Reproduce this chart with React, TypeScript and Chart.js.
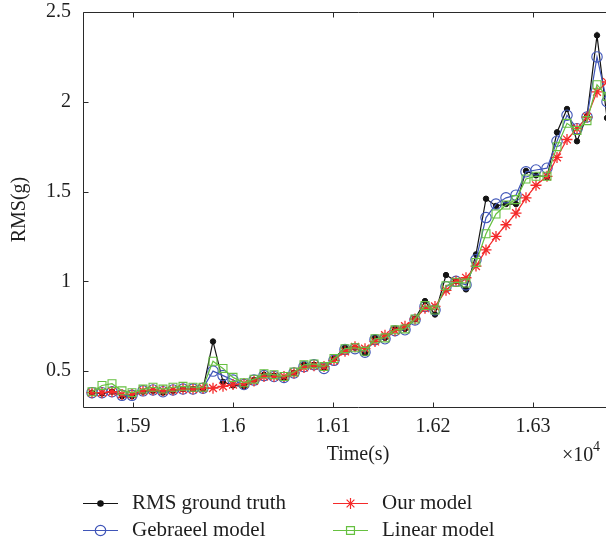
import React, { useEffect, useRef } from 'react';
import { Chart, registerables } from 'chart.js';
import { drawPoint } from 'chart.js/helpers';

Chart.register(...registerables);

// time stamps of the samples (s)
const TIMES = [
  15859, 15869, 15879, 15889, 15899, 15910, 15920, 15930, 15940, 15950,
  15960, 15970, 15980, 15990, 16000, 16011, 16021, 16031, 16041, 16051,
  16061, 16071, 16081, 16091, 16101, 16112, 16122, 16132, 16142, 16152,
  16162, 16172, 16182, 16192, 16202, 16213, 16223, 16233, 16243, 16253,
  16263, 16273, 16283, 16293, 16303, 16314, 16324, 16334, 16344, 16354,
  16364, 16374,
];

const RMS_TRUTH = [
  0.38, 0.375, 0.385, 0.36, 0.36, 0.385, 0.39, 0.38, 0.39, 0.4,
  0.4, 0.4, 0.665, 0.44, 0.42, 0.415, 0.45, 0.48, 0.475, 0.46,
  0.49, 0.535, 0.535, 0.52, 0.57, 0.63, 0.63, 0.6, 0.685, 0.685,
  0.735, 0.735, 0.79, 0.89, 0.815, 1.035, 1.0, 0.955, 1.15, 1.46,
  1.42, 1.43, 1.43, 1.615, 1.59, 1.58, 1.83, 1.96, 1.78, 1.92,
  2.37, 1.91,
];

const GEBRAEEL = [
  0.38, 0.38, 0.385, 0.365, 0.365, 0.39, 0.395, 0.385, 0.395, 0.4,
  0.4, 0.405, 0.5, 0.475, 0.45, 0.425, 0.45, 0.475, 0.47, 0.465,
  0.49, 0.525, 0.535, 0.515, 0.56, 0.62, 0.625, 0.605, 0.675, 0.68,
  0.725, 0.73, 0.785, 0.86, 0.84, 0.97, 1.0, 0.98, 1.12, 1.355,
  1.43, 1.465, 1.48, 1.61, 1.62, 1.63, 1.78, 1.925, 1.85, 1.915,
  2.25, 2.0,
];

const OUR_MODEL = [
  0.38, 0.38, 0.385, 0.37, 0.37, 0.39, 0.395, 0.39, 0.395, 0.4,
  0.4, 0.405, 0.405, 0.415, 0.425, 0.43, 0.445, 0.47, 0.47, 0.47,
  0.49, 0.52, 0.53, 0.525, 0.56, 0.61, 0.635, 0.625, 0.665, 0.7,
  0.725, 0.75, 0.79, 0.85, 0.86, 0.95, 1.0, 1.02, 1.085, 1.175,
  1.25, 1.315, 1.38, 1.465, 1.535, 1.585, 1.69, 1.79, 1.85, 1.915,
  2.055, 2.11,
];

const LINEAR = [
  0.385, 0.42, 0.43, 0.39, 0.38, 0.4, 0.41, 0.4, 0.41, 0.415,
  0.41, 0.41, 0.555, 0.515, 0.465, 0.435, 0.455, 0.485, 0.48, 0.47,
  0.495, 0.535, 0.54, 0.525, 0.57, 0.625, 0.63, 0.61, 0.68, 0.685,
  0.73, 0.735, 0.79, 0.865, 0.84, 0.975, 0.995, 0.99, 1.105, 1.265,
  1.375, 1.425, 1.455, 1.57, 1.585, 1.585, 1.75, 1.88, 1.84, 1.895,
  2.095, 2.03,
];

const X_TICKS = [15900, 16000, 16100, 16200, 16300];
const X_TICK_LABELS = ['1.59', '1.6', '1.61', '1.62', '1.63'];
const Y_TICKS = [0.5, 1, 1.5, 2, 2.5];
const Y_TICK_LABELS = ['0.5', '1', '1.5', '2', '2.5'];
const SERIES_LABELS = ['RMS ground truth', 'Gebraeel model', 'Our model', 'Linear model'];

const FONT = '"Liberation Serif", "Times New Roman", serif';
const TEXT_COLOR = '#1e1e1e';
const AXIS_COLOR = '#2a2a2a';

const STYLES = [
  { color: '#141414', pointStyle: 'circle', radius: 2.7, fill: '#141414', order: 3, pw: 1 },
  { color: '#3f55b8', pointStyle: 'circle', radius: 5.2, fill: 'rgba(0,0,0,0)', order: 2, pw: 1.1 },
  { color: '#f42a2a', pointStyle: 'star', radius: 5.5, fill: 'rgba(0,0,0,0)', order: 1, pw: 1.3 },
  { color: '#66c040', pointStyle: 'rect', radius: 5.6, fill: 'rgba(0,0,0,0)', order: 0, pw: 1.1 },
];

const SERIES = [RMS_TRUTH, GEBRAEEL, OUR_MODEL, LINEAR];

const framePlugin = {
  id: 'frameAndLegend',
  afterDraw(chart: any) {
    const { ctx, chartArea } = chart;
    const xs = chart.scales.x;
    const ys = chart.scales.y;
    const L = Math.round(chartArea.left) + 0.5;
    const R = Math.round(chartArea.right) + 0.5;
    const T = Math.round(chartArea.top) + 0.5;
    const B = Math.round(chartArea.bottom) + 0.5;
    ctx.save();
    ctx.strokeStyle = AXIS_COLOR;
    ctx.lineWidth = 1;
    ctx.beginPath();
    ctx.moveTo(L, T); ctx.lineTo(R, T); ctx.lineTo(R, B); ctx.lineTo(L, B); ctx.closePath();
    ctx.stroke();
    // inward ticks
    const tl = 5;
    ctx.beginPath();
    X_TICKS.forEach((v) => {
      const px = Math.round(xs.getPixelForValue(v)) + 0.5;
      ctx.moveTo(px, B); ctx.lineTo(px, B - tl);
      ctx.moveTo(px, T); ctx.lineTo(px, T + tl);
    });
    Y_TICKS.forEach((v) => {
      const py = Math.round(ys.getPixelForValue(v)) + 0.5;
      ctx.moveTo(L, py); ctx.lineTo(L + tl, py);
      ctx.moveTo(R, py); ctx.lineTo(R - tl, py);
    });
    ctx.stroke();

    // x10^4 exponent label
    ctx.fillStyle = TEXT_COLOR;
    ctx.textBaseline = 'middle';
    ctx.textAlign = 'left';
    ctx.font = `20px ${FONT}`;
    ctx.fillText('\u00d710', 562, 456);
    ctx.font = `14px ${FONT}`;
    ctx.fillText('4', 593, 447);

    // legend
    const cols = [chartArea.left, chartArea.left + 250];
    const rows = [503, 530];
    const order = [[0, 0], [1, 0], [0, 1], [1, 1]];
    SERIES_LABELS.forEach((label, i) => {
      const [r, c] = order[i];
      const x0 = cols[c];
      const y0 = rows[r];
      const st = STYLES[i];
      ctx.strokeStyle = st.color;
      ctx.lineWidth = 1.2;
      ctx.beginPath();
      ctx.moveTo(x0, y0 + 0.5);
      ctx.lineTo(x0 + 35, y0 + 0.5);
      ctx.stroke();
      ctx.fillStyle = st.fill;
      drawPoint(ctx, { pointStyle: st.pointStyle, radius: st.radius, borderWidth: st.pw, rotation: 0 }, x0 + 17.5, y0 + 0.5);
      ctx.fillStyle = TEXT_COLOR;
      ctx.font = `21px ${FONT}`;
      ctx.textBaseline = 'middle';
      ctx.textAlign = 'left';
      ctx.fillText(label, x0 + 49, y0);
    });
    ctx.restore();
  },
};

export default function App() {
  const canvasRef = useRef<HTMLCanvasElement | null>(null);

  useEffect(() => {
    const canvas = canvasRef.current;
    if (!canvas) return;
    const datasets = SERIES.map((vals, i) => {
      const st = STYLES[i];
      return {
        label: SERIES_LABELS[i],
        data: TIMES.map((t, k) => ({ x: t, y: vals[k] })),
        borderColor: st.color,
        backgroundColor: st.fill,
        borderWidth: 1.2,
        pointStyle: st.pointStyle,
        pointRadius: st.radius,
        pointBorderWidth: st.pw,
        pointBorderColor: st.color,
        pointBackgroundColor: st.fill,
        tension: 0,
        fill: false,
        order: st.order,
      };
    });
    const chart = new Chart(canvas, {
      type: 'line',
      data: { datasets },
      plugins: [framePlugin],
      options: {
        responsive: false,
        animation: false,
        devicePixelRatio: 1,
        layout: { padding: { left: 0, top: 12, right: 27, bottom: 79 } },
        plugins: { legend: { display: false }, tooltip: { enabled: false } },
        scales: {
          x: {
            type: 'linear',
            min: 15850,
            max: 16400,
            grid: { display: false, drawTicks: false, tickLength: 0 },
            border: { display: false },
            afterBuildTicks: (s: any) => { s.ticks = X_TICKS.map((v) => ({ value: v })); },
            afterFit: (s: any) => { s.height = 60; s.paddingLeft = 0; s.paddingRight = 0; },
            ticks: {
              autoSkip: false,
              maxRotation: 0,
              padding: 8,
              color: TEXT_COLOR,
              font: { family: FONT, size: 20 },
              callback: (_v: any, idx: number) => X_TICK_LABELS[idx],
            },
            title: {
              display: true,
              text: 'Time(s)',
              color: TEXT_COLOR,
              font: { family: FONT, size: 20 },
              padding: { top: 0, bottom: 0 },
            },
          },
          y: {
            type: 'linear',
            min: 0.3,
            max: 2.5,
            grid: { display: false, drawTicks: false, tickLength: 0 },
            border: { display: false },
            afterBuildTicks: (s: any) => { s.ticks = Y_TICKS.map((v) => ({ value: v })); },
            afterFit: (s: any) => { s.width = 83; s.paddingTop = 12; s.paddingBottom = 0; },
            ticks: {
              padding: 12,
              color: TEXT_COLOR,
              font: { family: FONT, size: 20 },
              callback: (_v: any, idx: number) => Y_TICK_LABELS[idx],
            },
            title: {
              display: true,
              text: 'RMS(g)',
              color: TEXT_COLOR,
              font: { family: FONT, size: 20 },
              padding: { top: 8, bottom: 0 },
            },
          },
        },
      } as any,
    });
    return () => chart.destroy();
  }, []);

  return (
    <div style={{ position: 'fixed', left: 0, top: 0, width: 606, height: 546, overflow: 'hidden', background: '#ffffff' }}>
      <canvas ref={canvasRef} width={660} height={546} style={{ display: 'block', width: 660, height: 546 }} />
    </div>
  );
}
